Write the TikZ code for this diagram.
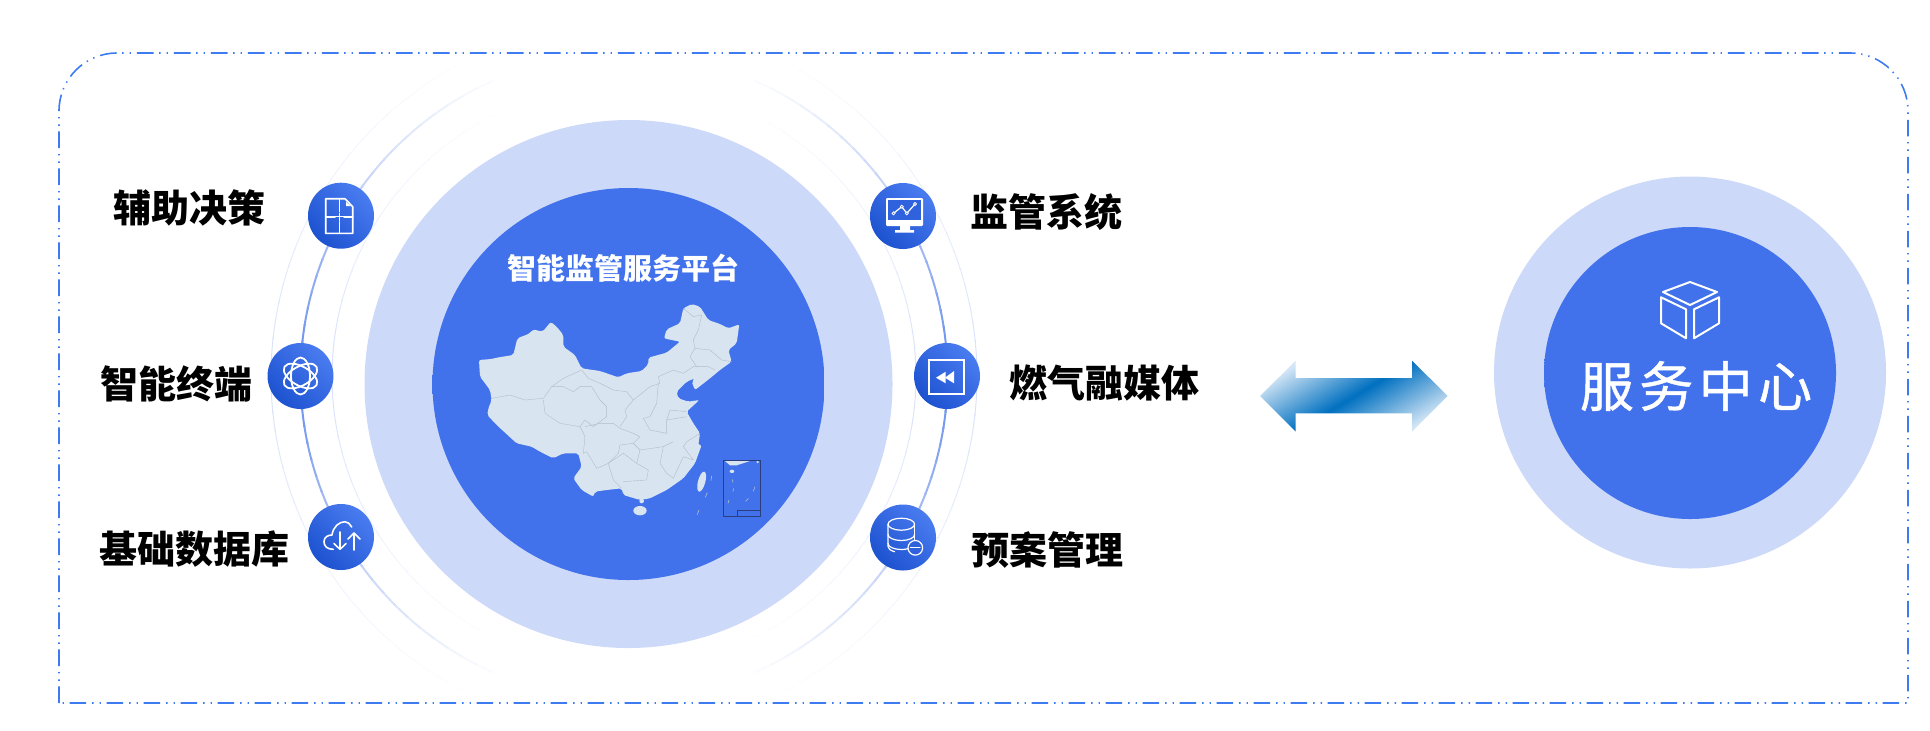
\documentclass[tikz,border=0pt]{standalone}
\usepackage{fontspec}
\setmainfont{Noto Sans CJK SC}
\newfontfamily\spacedfont[LetterSpace=10,FakeBold=.9]{Noto Sans CJK SC}
\usepackage{xcolor}
\usetikzlibrary{positioning}
\definecolor{panelblue}{HTML}{3E7BF0}
\definecolor{haloblue}{HTML}{CCD9F8}
\definecolor{ringblue}{HTML}{5F87EA}
\definecolor{ringpale}{HTML}{D6E0FB}
\definecolor{mapfill}{HTML}{D9E4F1}
\definecolor{mapline}{HTML}{B4BDCA}
\definecolor{insetline}{HTML}{2B3F7E}
\definecolor{arrowdark}{HTML}{0070C0}
\definecolor{arrowlight}{HTML}{D4E6F6}
\definecolor{badgelight}{HTML}{4A7CF0}
\definecolor{badgedark}{HTML}{1D52D0}
\definecolor{badgemid}{HTML}{2F62DC}
\pgfdeclareradialshading{globeshade}{\pgfpoint{7bp}{3bp}}{%
	rgb(0bp)=(.255,.447,.925);
	rgb(45bp)=(.255,.447,.925);
	rgb(56bp)=(.227,.576,.949);
	rgb(60bp)=(.227,.576,.949)}
\begin{document}
\begin{tikzpicture}[x=.5pt,y=-.5pt,
		halo/.style={circle,fill=haloblue,inner sep=0pt},
		globe/.style={circle,shading=globeshade,inner sep=0pt},
		badge/.style={circle,inner sep=0pt,minimum size=33pt,left color=badgelight,right color=badgedark,shading angle=-45},
		tag/.style={inner sep=0pt,font=\fontsize{19}{19}\selectfont\bfseries},
		icon/.style={draw=white,line width=.8pt,line join=round,line cap=round},
		border/.style={draw=mapline,line width=.2pt,line join=round},
	]
	\useasboundingbox (0,0) rectangle (1930,730);

	\coordinate (orbit) at (624,376.5);
	\foreach \a in {0,3,...,357} {
		\pgfmathsetmacro\mainmix{max(0,100*(1-abs(sin(\a+1.5))/.93))}
		\draw[ringblue!\mainmix!white,line width=1pt] (orbit) ++(\a:323.5) arc[start angle=\a,end angle=\a+3.4,radius=323.5];
		\draw[ringpale!\mainmix!white,line width=.5pt] (orbit) ++(\a:353) arc[start angle=\a,end angle=\a+3.4,radius=353];
		\draw[ringpale!\mainmix!white,line width=.5pt] (orbit) ++(\a:292) arc[start angle=\a,end angle=\a+3.4,radius=292];
	}
	\draw[panelblue,line width=.8pt,dash pattern=on 8.3pt off 2.8pt on .7pt off 3pt on .7pt off 3pt]
		(59,703) [rounded corners=29pt] -- (59,53) -- (1908,53) [sharp corners] -- (1908,703) -- cycle;

	\node[halo,minimum size=264pt] (haloL) at (628.5,384) {};
	\node[globe,minimum size=196pt] (platform) at (628.5,384) {};
	\node[halo,minimum size=196pt] (haloR) at (1690,372.5) {};
	\node[globe,minimum size=146pt] (center) at (1690,373) {};

	\node[text=white,inner sep=0pt,font=\fontsize{14.5}{14.5}\selectfont\bfseries] (title) at (623,268) {智能监管服务平台};
	\node[text=white,inner sep=0pt,font=\fontsize{27}{27}\selectfont\spacedfont] (service) at (1696,386) {服务中心};

	\begin{scope}[shift={(400,170)},x=.5pt/3,y=-.5pt/3]
		\fill[mapfill,rounded corners=1pt] (237,570) -- (275,567) -- (290,563) -- (340,555) -- (352,505) -- (390,490) -- (398,478) -- (428,485) -- (452,456) -- (470,470) -- (490,495) -- (490,530) -- (525,555) -- (545,595) -- (600,603) -- (655,622) -- (680,610) -- (725,603) -- (745,583) -- (745,563) -- (800,548) -- (840,515) -- (815,510) -- (792,505) -- (800,478) -- (840,460) -- (850,415) -- (875,402) -- (900,410) -- (925,450) -- (960,462) -- (985,475) -- (1018,463) -- (1010,520) -- (985,540) -- (995,575) -- (960,600) -- (930,625) -- (885,660) -- (875,635) -- (885,625) -- (860,635) -- (830,665) -- (835,685) -- (865,695) -- (898,690) -- (860,725) -- (880,760) -- (900,790) -- (895,825) -- (905,825) -- (885,880) -- (850,925) -- (800,960) -- (750,985) -- (720,990) -- (670,975) -- (665,955) -- (620,960) -- (585,965) -- (580,980) -- (545,960) -- (520,925) -- (545,890) -- (535,850) -- (490,850) -- (460,865) -- (420,845) -- (395,830) -- (350,820) -- (290,765) -- (262,735) -- (265,715) -- (275,690) -- (270,660) -- (240,620) -- cycle;
		\fill[mapfill] (720,1022) ellipse (20 and 14);
		\fill[mapfill] (725,993) circle (7);
		\fill[mapfill,rotate around={-15:(905,935)}] (905,935) ellipse (11 and 31);
		\draw[border] (275,685) -- (330,675) -- (375,690) -- (430,685) -- (455,650) -- (490,625) -- (545,600);
		\draw[border] (430,690) -- (435,730) -- (480,760) -- (540,770) -- (555,750) -- (580,770) -- (620,740) -- (620,710) -- (600,690) -- (575,650) -- (540,650) -- (520,665) -- (490,650) -- (455,650);
		\draw[border] (540,770) -- (555,800) -- (550,850);
		\draw[border] (545,600) -- (565,625) -- (600,640) -- (640,660) -- (680,665) -- (700,690) -- (750,650) -- (780,640) -- (775,620) -- (820,600) -- (850,610) -- (880,590) -- (925,590);
		\draw[border] (850,415) -- (880,440) -- (905,435) -- (895,480) -- (880,510) -- (885,535) -- (870,560) -- (890,590);
		\draw[border] (885,535) -- (930,540) -- (965,570) -- (995,575);
		\draw[border] (925,590) -- (945,600);
		\draw[border] (700,690) -- (675,720) -- (680,740) -- (660,770);
		\draw[border] (555,770) -- (600,760) -- (640,760) -- (660,775) -- (700,790) -- (720,800) -- (700,820) -- (660,825) -- (655,850) -- (625,880) -- (640,930) -- (665,955);
		\draw[border] (700,820) -- (720,840) -- (790,830) -- (820,815);
		\draw[border] (720,840) -- (710,880) -- (745,900) -- (740,930) -- (670,935);
		\draw[border] (790,830) -- (780,880) -- (800,910) -- (820,925);
		\draw[border] (820,925) -- (850,860) -- (880,870) -- (850,830) -- (860,815) -- (900,790);
		\draw[border] (775,640) -- (770,700) -- (750,740) -- (730,745) -- (750,780) -- (800,790) -- (800,750) -- (860,740);
		\draw[border] (800,750) -- (810,720) -- (860,725);
		\draw[border] (625,880) -- (670,850) -- (710,880);
		\draw[border] (590,895) -- (560,845) -- (550,850);
		\draw[border] (590,895) -- (625,880);
		\draw[mapline,line width=.3pt] (935,918) -- (933,932) (922,968) -- (916,982) (897,1020) -- (892,1034);
		\draw[mapline,line width=.3pt] (997,928) -- (999,938) (1001,955) -- (999,965) (987,990) -- (984,1000) (1045,985) -- (1037,994) (1065,950) -- (1060,964);
		\fill[mapfill] (975,873) -- (1050,873) -- (1010,886) -- (990,886) -- cycle;
		\fill[mapfill] (996,904) ellipse (7 and 5);
		\fill[mapfill] (1073,876) circle (4);
		\draw[insetline,line width=.3pt] (970,871) rectangle (1082,1040);
		\draw[insetline,line width=.3pt] (1013,1021) rectangle (1082,1040);
	\end{scope}

	\shade[top color=arrowlight,bottom color=arrowlight,middle color=arrowdark,shading angle=31]
		(1260,396) -- (1295.7,360.7) -- (1295.7,378) -- (1412,378) -- (1412,360.7) -- (1447.7,396) -- (1412,431.7) -- (1412,413.3) -- (1295.7,413.3) -- (1295.7,431.7) -- cycle;

	\node[badge] (decision) at (341,215.7) {};
	\node[badge] (terminal) at (300.5,376) {};
	\node[badge] (database) at (341,537) {};
	\node[badge] (monitor) at (903,216) {};
	\node[badge] (media) at (947,376) {};
	\node[badge] (plan) at (903,537.5) {};

	\node[tag,left=21pt of decision,yshift=4pt] (decisionL) {辅助决策};
	\node[tag,left=7pt of terminal,yshift=-4pt] (terminalL) {智能终端};
	\node[tag,left=9pt of database,yshift=-6pt] (databaseL) {基础数据库};
	\node[tag,right=17pt of monitor,yshift=2pt] (monitorL) {监管系统};
	\node[tag,right=14.5pt of media,yshift=-3.5pt] (mediaL) {燃气融媒体};
	\node[tag,right=17.5pt of plan,yshift=-6pt] (planL) {预案管理};

	\begin{scope}[shift={(decision)}]
		\draw[icon] (-15.3,-17) -- (4,-17) -- (11.7,-9) -- (11.7,17.7) -- (-15.3,17.7) -- cycle;
		\draw[icon] (-1.7,-17) -- (-1.7,-4) (-1.7,6) -- (-1.7,17.7) (-15.3,1) -- (-6,1) (3,1) -- (11.7,1);
		\fill[white] (5,-14) -- (10,-9.5) -- (5,-9.5) -- cycle;
		\draw[white,line width=.3pt] (-1.7,-3) -- (-1.7,5) (-6,1) -- (3,1);
	\end{scope}
	\begin{scope}[shift={(terminal)}]
		\foreach \r in {90,30,-30} \draw[icon,line width=.9pt,rotate=\r] (0,0) ellipse (18.5 and 9.5);
	\end{scope}
	\begin{scope}[shift={(database)}]
		\draw[icon] (-7.7,12.3) .. controls (-14,12.3) and (-17,9) .. (-17,4.7) .. controls (-17,0) and (-13,-2) .. (-9,-2) .. controls (-8,-10) and (-2,-15.3) .. (4,-15.3) .. controls (7,-15.3) and (9,-13) .. (10.7,-10);
		\draw[icon] (-1,-5) -- (-1,12.3) (-7,6.5) -- (-1,12.3) -- (5,6.5);
		\draw[icon] (13,13) -- (13,-4) (7,2) -- (13,-4) -- (19,2);
	\end{scope}
	\begin{scope}[shift={(monitor)}]
		\fill[white,rounded corners=.6pt] (-17,-18) rectangle (20,10);
		\fill[badgemid] (-15,-16) rectangle (18,4);
		\fill[white] (-3,10) rectangle (7,14) (-8,14) rectangle (11,16.5);
		\draw[white,line width=.6pt] (-9.5,-2.7) -- (-1.2,-9.3) -- (3.8,-2.7) -- (12,-12);
		\foreach \px/\py in {-9.5/-2.7,-1.2/-9.3,3.8/-2.7,12/-12}
			\draw[white,fill=badgemid,line width=.4pt] (\px,\py) circle (1.5);
	\end{scope}
	\begin{scope}[shift={(media)}]
		\draw[draw=white,line width=1pt] (-18,-16) rectangle (17,18);
		\fill[white] (-11,1.7) -- (-1.3,-4.3) -- (-1.3,7.3) -- cycle;
		\fill[white] (-2,1.7) -- (7,-5) -- (7,7.3) -- cycle;
	\end{scope}
	\begin{scope}[shift={(plan)}]
		\draw[icon,line width=.6pt] (-1.7,-13.3) ellipse (13.3 and 6);
		\draw[icon,line width=.6pt] (-15,-13.3) -- (-15,9) arc[start angle=180,end angle=120,x radius=13.3,y radius=6];
		\draw[icon,line width=.6pt] (11.6,-13.3) -- (11.6,2);
		\draw[icon,line width=.6pt] (-15,-3) arc[start angle=180,end angle=0,x radius=13.3,y radius=6];
		\draw[icon,line width=.6pt] (-15,6) arc[start angle=180,end angle=40,x radius=13.3,y radius=6];
		\draw[icon,line width=.6pt,fill=badgemid] (12.3,10.3) circle (7.3);
		\draw[icon,line width=.6pt] (7.5,10.3) -- (17,10.3);
	\end{scope}
	\begin{scope}[shift={(center)}]
		\draw[icon,line width=1pt] (0,-91) -- (27,-81) -- (0,-68) -- (-27,-81) -- cycle;
		\draw[icon,line width=1pt] (-29,-75.7) -- (-4,-63.7) -- (-4,-34.7) -- (-29,-49.7) -- cycle;
		\draw[icon,line width=1pt] (4,-63.7) -- (29,-75.7) -- (29,-49.7) -- (4,-34.7) -- cycle;
	\end{scope}
\end{tikzpicture}
\end{document}
